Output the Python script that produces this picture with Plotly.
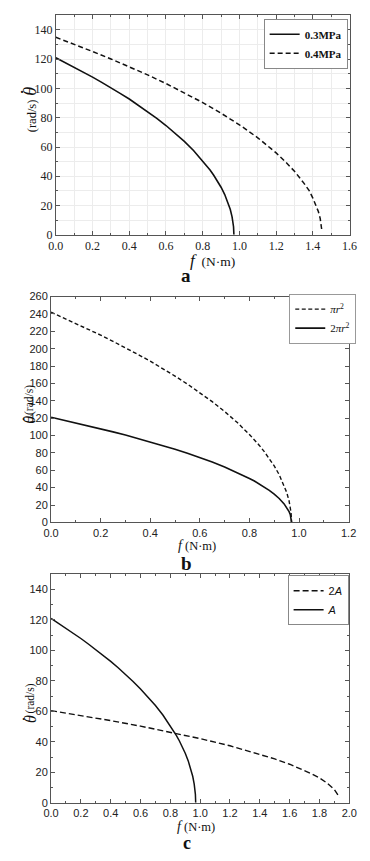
import plotly.graph_objects as go

W, H = 370, 861

# ---------------- data ----------------
# shared curve (0.3 MPa / 2πr² / A)
f_base = [0, 0.05, 0.1, 0.15, 0.2, 0.25, 0.3, 0.35, 0.4, 0.45, 0.5, 0.55, 0.6, 0.65, 0.7, 0.75,
          0.8, 0.82, 0.84, 0.86, 0.88, 0.9, 0.92, 0.94, 0.95, 0.96, 0.965, 0.968, 0.97]
w_base = [121, 117.8, 114.6, 111.3, 107.8, 104.2, 100.6, 96.7, 92.8, 88.6, 84.2, 79.6, 74.7, 69.5, 63.8, 57.6,
          50.6, 47.6, 44.3, 40.7, 36.9, 32.5, 27.5, 21.3, 17.4, 12.3, 8.7, 5.5, 0]

# panel a, 0.4 MPa
f_a04 = [0, 0.1, 0.2, 0.3, 0.4, 0.5, 0.6, 0.7, 0.8, 0.9, 1.0, 1.1, 1.15, 1.2, 1.25, 1.3, 1.35, 1.38, 1.4, 1.42, 1.43, 1.44, 1.45]
w_a04 = [135, 130.3, 125.3, 120.2, 114.9, 109.3, 103.4, 97.1, 90.4, 83.1, 75.2, 66.3, 61.3, 56, 50, 43.4, 35.5, 30.2, 25.1, 19.5, 15.9, 11.2, 2]

# panel b, πr²
f_b1 = f_base
w_b1 = [242, 235.6, 229.2, 222.6, 215.6, 208.4, 201.2, 193.4, 185.6, 177.2, 168.4, 159.2, 149.4, 139, 127.6, 115.2,
        101.2, 95.2, 88.6, 81.4, 73.8, 65, 55, 42.6, 34.8, 24.6, 17.4, 11, 0]

# panel c, 2A
f_c2 = [0, 0.2, 0.4, 0.6, 0.8, 1.0, 1.2, 1.4, 1.5, 1.6, 1.7, 1.75, 1.8, 1.85, 1.9, 1.93, 1.935]
w_c2 = [60.5, 57.3, 53.9, 50.3, 46.4, 42.1, 37.4, 31.9, 28.8, 25.3, 21.3, 18.9, 16.3, 13, 8.7, 4.3, 3.5]

legend_a = ["0.3MPa", "0.4MPa"]
legend_b = ["<i>πr</i><sup>2</sup>", "2<i>πr</i><sup>2</sup>"]
legend_c = ["2<i>A</i>", "<i>A</i>"]

SERIF = "Liberation Serif, Times New Roman, serif"
SANS = "Liberation Sans, Arial, sans-serif"

fig = go.Figure()

# panel a
fig.add_trace(go.Scatter(x=f_base, y=w_base, mode="lines", name=legend_a[0],
                         line=dict(color="#111", width=1.6), xaxis="x", yaxis="y", legend="legend"))
fig.add_trace(go.Scatter(x=f_a04, y=w_a04, mode="lines", name=legend_a[1],
                         line=dict(color="#111", width=1.5, dash="5px,3px"), xaxis="x", yaxis="y", legend="legend"))
# panel b
fig.add_trace(go.Scatter(x=f_b1, y=w_b1, mode="lines", name=legend_b[0],
                         line=dict(color="#111", width=1.4, dash="4px,2.5px"), xaxis="x2", yaxis="y2", legend="legend2"))
fig.add_trace(go.Scatter(x=f_base, y=w_base, mode="lines", name=legend_b[1],
                         line=dict(color="#111", width=1.6), xaxis="x2", yaxis="y2", legend="legend2"))
# panel c
fig.add_trace(go.Scatter(x=f_c2, y=w_c2, mode="lines", name=legend_c[0],
                         line=dict(color="#111", width=1.4, dash="6px,3px"), xaxis="x3", yaxis="y3", legend="legend3"))
fig.add_trace(go.Scatter(x=f_base, y=w_base, mode="lines", name=legend_c[1],
                         line=dict(color="#111", width=1.5), xaxis="x3", yaxis="y3", legend="legend3"))


def ax(domain, rng, dtick, mdtick, font, anchor, grid=False, fmt=None, fsize=11):
    d = dict(domain=domain, range=rng, dtick=dtick, tick0=0, ticks="inside", ticklen=4,
             tickwidth=1, tickcolor="#555", showline=True, linecolor="#555", linewidth=1,
             mirror="allticks", zeroline=False, showgrid=grid, gridcolor="#ececec", gridwidth=1,
             tickfont=dict(family=font, size=fsize, color="#222"),
             anchor=anchor, fixedrange=True)
    if fmt:
        d["tickformat"] = fmt
    if mdtick:
        d["minor"] = dict(dtick=mdtick, tick0=0, ticks="inside", ticklen=2, tickcolor="#555",
                          showgrid=grid, gridcolor="#ececec")
    return d


def px_x(p):
    return p / W


def px_y(p):
    return 1 - p / H


fig.update_layout(
    width=W, height=H, margin=dict(l=0, r=0, t=0, b=0),
    paper_bgcolor="white", plot_bgcolor="white",
    xaxis=ax([px_x(50), px_x(357)], [0, 1.6], 0.2, 0.1, SERIF, "y", grid=True, fmt=".1f", fsize=12),
    yaxis=ax([px_y(232.3), px_y(9.5)], [0, 150], 20, 10, SERIF, "x", grid=True, fsize=12),
    xaxis2=ax([px_x(45), px_x(356)], [0, 1.2], 0.2, 0.1, SANS, "y2", fmt=".1f"),
    yaxis2=ax([px_y(524.3), px_y(295)], [0, 260], 20, None, SANS, "x2"),
    xaxis3=ax([px_x(45), px_x(356.7)], [0, 2.0], 0.2, 0.1, SANS, "y3", fmt=".1f"),
    yaxis3=ax([px_y(809), px_y(576.9)], [0, 150], 20, 10, SANS, "x3"),
    legend=dict(x=px_x(355), y=px_y(13), xanchor="right", yanchor="top", bgcolor="white",
                bordercolor="#888", borderwidth=1, font=dict(family=SERIF, size=11, color="#111", weight="bold"),
                itemwidth=30, tracegroupgap=0),
    legend2=dict(x=px_x(364), y=px_y(292), xanchor="right", yanchor="top", bgcolor="white",
                 bordercolor="#999", borderwidth=1, font=dict(family=SERIF, size=11, color="#111"),
                 itemwidth=30),
    legend3=dict(x=px_x(356), y=px_y(578), xanchor="right", yanchor="top", bgcolor="white",
                 bordercolor="#888", borderwidth=1, font=dict(family=SANS, size=11, color="#111"),
                 itemwidth=30),
    showlegend=True,
)

ann = []


def add_ann(text, x, y, size, family=SERIF, angle=0):
    ann.append(dict(text=text, x=px_x(x), y=px_y(y), xref="paper", yref="paper", showarrow=False,
                    textangle=angle, font=dict(family=family, size=size, color="#111"),
                    xanchor="center", yanchor="middle"))


def theta_dot(x, y, size):
    # italic theta rotated, with its dot (above the glyph => to the left once rotated)
    add_ann("<i>θ</i>", x, y, size, angle=-90)
    add_ann("·", x - size * 0.45, y, size, angle=0)


# panel a labels
theta_dot(23, 87, 18)
add_ann("(rad/s)", 25, 111, 12.5, angle=-90)
add_ann('<span style="font-size:17px"><i>f</i></span>  (N·m)', 214, 258, 13.5)
add_ann("<b>a</b>", 186, 274, 19)
# panel b labels
theta_dot(23, 420, 16)
add_ann("(rad/s)", 23, 400, 11.5, angle=-90)
add_ann('<span style="font-size:14px"><i>f</i></span> (N·m)', 198, 548, 12.5)
add_ann("<b>b</b>", 187, 566, 19)
# panel c labels
theta_dot(23, 724, 16)
add_ann("(rad/s)", 23, 703, 11.5, angle=-90)
add_ann('<span style="font-size:14px"><i>f</i></span> (N·m)', 197, 833, 12.5)
add_ann("<b>c</b>", 187, 850, 18)

fig.update_layout(annotations=ann)

fig.write_html("out.html")
